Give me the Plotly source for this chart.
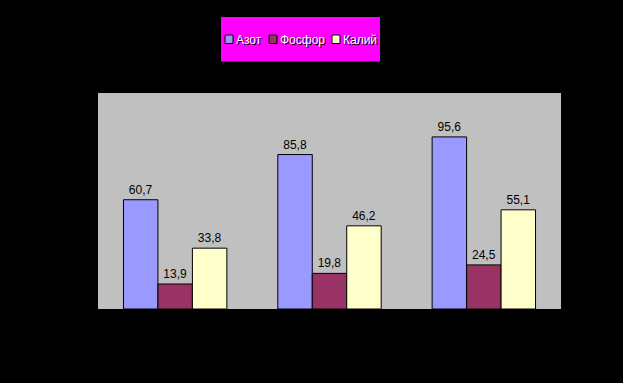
import plotly.graph_objects as go

categories = ["1", "2", "3"]
series_names = ["Азот", "Фосфор", "Калий"]
azot = [60.7, 85.8, 95.6]
fosfor = [13.9, 19.8, 24.5]
kaliy = [33.8, 46.2, 55.1]
colors = ["#9999FF", "#993366", "#FFFFCC"]

W, H = 623, 383
L, R, T, B = 98, 62, 93, 74
pw, ph = W - L - R, H - T - B

def px_x(x):
    return (x - L) / pw

def px_y(y):
    return (H - B - y) / ph

fig = go.Figure()
for name, vals, col in zip(series_names, [azot, fosfor, kaliy], colors):
    fig.add_trace(go.Bar(
        x=categories, y=vals, name=name,
        marker=dict(color=col, line=dict(color="black", width=1)),
        texttemplate="%{y:.1f}", textposition="outside",
        textfont=dict(family="Liberation Sans, Arial", size=12, color="black"),
        cliponaxis=False, showlegend=False,
    ))

# custom compact legend box
shapes = [dict(type="rect", xref="paper", yref="paper",
               x0=px_x(221), x1=px_x(380), y0=px_y(61.5), y1=px_y(17),
               fillcolor="#FF00FF", line=dict(width=0), layer="above")]
annotations = []
swatch_x = [225, 269, 332]
for sx, name, col in zip(swatch_x, series_names, colors):
    shapes.append(dict(type="rect", xref="paper", yref="paper",
                       x0=px_x(sx), x1=px_x(sx + 8), y0=px_y(43.5), y1=px_y(35),
                       fillcolor=col, line=dict(color="black", width=1), layer="above"))
    annotations.append(dict(x=px_x(sx + 9), y=px_y(39.5), xref="paper", yref="paper",
                            text=name, showarrow=False, xanchor="left", yanchor="middle",
                            font=dict(family="Liberation Sans, Arial", size=12, color="white",
                                      shadow="1px 1px 0px black")))

fig.update_layout(
    width=W, height=H,
    margin=dict(l=L, r=R, t=T, b=B, pad=0),
    paper_bgcolor="black", plot_bgcolor="#C0C0C0",
    barmode="group", bargap=0.33, bargroupgap=0,
    separators=", ",
    xaxis=dict(showticklabels=False, showgrid=False, zeroline=False, ticks=""),
    yaxis=dict(range=[0, 120], showticklabels=False, showgrid=False, zeroline=False, ticks=""),
    shapes=shapes, annotations=annotations,
    showlegend=False,
)

fig.write_html("out.html")
